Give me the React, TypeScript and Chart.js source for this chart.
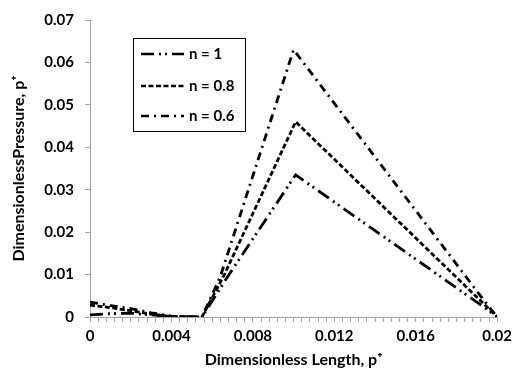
import React, { useEffect, useRef } from 'react';
import { Chart, registerables } from 'chart.js';

Chart.register(...registerables);

// Dimensionless length (x) and pressure (y) for each flow index n
const xN1 = [0, 0.001, 0.002, 0.003, 0.004, 0.0055, 0.0068, 0.0101, 0.0193, 0.02];
const yN1 = [0.0005, 0.0008, 0.0009, 0.0005, 0.0001, 0, 0.0098, 0.0335, 0.0025, 0];

const xN08 = [0, 0.001, 0.002, 0.003, 0.004, 0.0055, 0.0066, 0.0101, 0.0193, 0.02];
const yN08 = [0.0028, 0.0022, 0.0015, 0.0007, 0.0001, 0, 0.01, 0.046, 0.0033, 0];

const xN06 = [0, 0.001, 0.002, 0.003, 0.004, 0.0055, 0.0064, 0.01, 0.0194, 0.02];
const yN06 = [0.0035, 0.0027, 0.002, 0.001, 0.0002, 0, 0.0095, 0.063, 0.0036, 0];

const seriesLabels = ['n = 1', 'n = 0.8', 'n = 0.6'];
const xMin = 0;
const xMax = 0.02;
const xMajorStep = 0.004;
const xMinorStep = 0.0004;
const yMin = 0;
const yMax = 0.07;
const yStep = 0.01;
const xTitle = 'Dimensionless Length, p\u207A';
const yTitle = 'DimensionlessPressure, p\u207A';

const FONT = 'Lato, "Open Sans", sans-serif';
const AXIS_GREY = '#a6a6a6';

const toPoints = (xs: number[], ys: number[]) => xs.map((x, i) => ({ x, y: ys[i] }));

const legendRows = [54, 86, 116];

const boxLegend = {
  id: 'boxLegend',
  afterDatasetsDraw(chart: any) {
    const ctx = chart.ctx as CanvasRenderingContext2D;
    ctx.save();
    ctx.fillStyle = '#ffffff';
    ctx.fillRect(133.5, 38.5, 112, 93);
    ctx.strokeStyle = '#000000';
    ctx.lineWidth = 1;
    ctx.setLineDash([]);
    ctx.strokeRect(133.5, 38.5, 112, 93);
    chart.data.datasets.forEach((ds: any, i: number) => {
      const y = legendRows[i];
      ctx.strokeStyle = '#000000';
      ctx.lineWidth = 2.5;
      ctx.setLineDash(ds.borderDash || []);
      ctx.beginPath();
      ctx.moveTo(141, y);
      ctx.lineTo(184, y);
      ctx.stroke();
      ctx.setLineDash([]);
      ctx.fillStyle = '#000000';
      ctx.font = `bold 15px ${FONT}`;
      ctx.textBaseline = 'middle';
      ctx.textAlign = 'left';
      ctx.fillText(ds.label, 189, y);
    });
    ctx.restore();
  },
};

export default function App() {
  const ref = useRef<HTMLCanvasElement | null>(null);

  useEffect(() => {
    if (!ref.current) return;
    const chart = new Chart(ref.current, {
      type: 'scatter',
      data: {
        datasets: [
          {
            label: seriesLabels[0],
            data: toPoints(xN1, yN1),
            showLine: true,
            borderColor: '#000',
            backgroundColor: '#000',
            borderWidth: 2.8,
            borderDash: [13, 5, 2, 4, 2, 5],
            pointRadius: 0,
            tension: 0,
          },
          {
            label: seriesLabels[1],
            data: toPoints(xN08, yN08),
            showLine: true,
            borderColor: '#000',
            backgroundColor: '#000',
            borderWidth: 2.8,
            borderDash: [5, 2.5],
            pointRadius: 0,
            tension: 0,
          },
          {
            label: seriesLabels[2],
            data: toPoints(xN06, yN06),
            showLine: true,
            borderColor: '#000',
            backgroundColor: '#000',
            borderWidth: 2.8,
            borderDash: [8, 5, 2, 5],
            pointRadius: 0,
            tension: 0,
          },
        ],
      },
      options: {
        animation: false,
        responsive: true,
        maintainAspectRatio: false,
        layout: { padding: { left: 9, right: 15, top: 16, bottom: 0 } },
        plugins: {
          legend: { display: false },
          tooltip: { enabled: false },
        },
        scales: {
          x: {
            type: 'linear',
            min: xMin,
            max: xMax,
            afterFit: (s: any) => { s.height = 52; },
            border: { color: AXIS_GREY, width: 1 },
            grid: { drawOnChartArea: false, drawTicks: true, tickLength: 5, color: AXIS_GREY },
            ticks: {
              stepSize: xMinorStep,
              autoSkip: false,
              maxTicksLimit: 200,
              maxRotation: 0,
              minRotation: 0,
              padding: 5,
              color: '#000',
              font: { family: FONT, size: 15, weight: 'bold' },
              callback: (v: any) => {
                const n = v / xMajorStep;
                if (Math.abs(n - Math.round(n)) > 1e-6) return '';
                return String(parseFloat(Number(v).toFixed(4)));
              },
            },
            title: {
              display: true,
              text: xTitle,
              color: '#000',
              font: { family: FONT, size: 16, weight: 'bold' },
              padding: 0,
            },
          },
          y: {
            type: 'linear',
            min: yMin,
            max: yMax,
            afterFit: (s: any) => { s.width = 81; },
            border: { color: AXIS_GREY, width: 1 },
            grid: { drawOnChartArea: false, drawTicks: true, tickLength: 5, color: AXIS_GREY },
            ticks: {
              stepSize: yStep,
              padding: 11,
              color: '#000',
              font: { family: FONT, size: 15, weight: 'bold' },
              callback: (v: any) => (Math.abs(v) < 1e-9 ? '0' : Number(v).toFixed(2)),
            },
            title: {
              display: true,
              text: yTitle,
              color: '#000',
              font: { family: FONT, size: 16, weight: 'bold' },
              padding: 0,
            },
          },
        },
      },
      plugins: [boxLegend],
    } as any);
    return () => chart.destroy();
  }, []);

  return (
    <div style={{ position: 'fixed', left: 0, top: 0, width: 517, height: 369, background: '#fff' }}>
      <canvas ref={ref} />
    </div>
  );
}
